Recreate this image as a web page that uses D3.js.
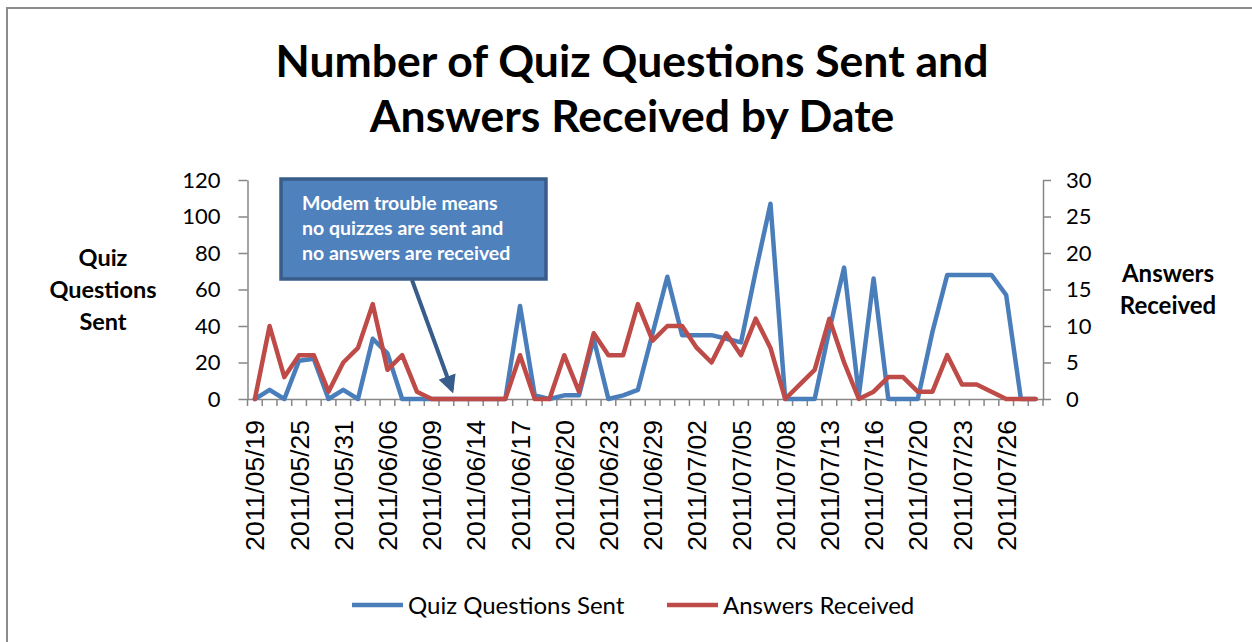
<!DOCTYPE html>
<html>
<head>
<meta charset="utf-8">
<script src="https://cdn.jsdelivr.net/npm/d3@7"></script>
<style>
  body { margin: 0; background: #fff; }
  svg { display: block; font-family: Lato, "Open Sans", sans-serif; }
</style>
</head>
<body>
<svg></svg>
<script>
// Category dates (only every third one is labelled on the axis)
const dates = [
  "2011/05/19", "2011/05/21", "2011/05/23", "2011/05/25", "2011/05/27", "2011/05/29",
  "2011/05/31", "2011/06/02", "2011/06/04", "2011/06/06", "2011/06/07", "2011/06/08",
  "2011/06/09", "2011/06/10", "2011/06/13", "2011/06/14", "2011/06/15", "2011/06/16",
  "2011/06/17", "2011/06/18", "2011/06/19", "2011/06/20", "2011/06/21", "2011/06/22",
  "2011/06/23", "2011/06/25", "2011/06/27", "2011/06/29", "2011/06/30", "2011/07/01",
  "2011/07/02", "2011/07/03", "2011/07/04", "2011/07/05", "2011/07/06", "2011/07/07",
  "2011/07/08", "2011/07/11", "2011/07/12", "2011/07/13", "2011/07/14", "2011/07/15",
  "2011/07/16", "2011/07/18", "2011/07/19", "2011/07/20", "2011/07/21", "2011/07/22",
  "2011/07/23", "2011/07/24", "2011/07/25", "2011/07/26", "2011/07/27", "2011/07/28"
];

// Quiz questions sent (left axis)
const questionsSent = [
  0, 5, 0, 21, 22, 0, 5, 0, 33, 25, 0, 0,
  0, 0, 0, 0, 0, 0, 51, 2, 0, 2, 2, 33,
  0, 2, 5, 36, 67, 35, 35, 35, 33, 31, 70, 107,
  0, 0, 0, 38, 72, 2, 66, 0, 0, 0, 37, 68,
  68, 68, 68, 57, 0, 0
];

// Answers received (right axis)
const answersReceived = [
  0, 10, 3, 6, 6, 1, 5, 7, 13, 4, 6, 1,
  0, 0, 0, 0, 0, 0, 6, 0, 0, 6, 1, 9,
  6, 6, 13, 8, 10, 10, 7, 5, 9, 6, 11, 7,
  0, 2, 4, 11, 5, 0, 1, 3, 3, 1, 1, 6,
  2, 2, 1, 0, 0, 0
];

const leftTicks = [0, 20, 40, 60, 80, 100, 120];
const rightTicks = [0, 5, 10, 15, 20, 25, 30];

const seriesNames = ["Quiz Questions Sent", "Answers Received"];
const seriesColors = ["#4A7EBB", "#BE4B48"];

const svgWidth = 1252;
const svgHeight = 642;
const plot = { left: 247.5, right: 1043, top: 180, bottom: 399 };
const axisColor = "#868686";

const svg = d3.select("svg")
    .attr("width", svgWidth)
    .attr("height", svgHeight);

// Chart border
svg.append("rect")
    .attr("x", 7).attr("y", 8)
    .attr("width", 1260).attr("height", 660)
    .attr("fill", "white")
    .attr("stroke", "#8c8c8c")
    .attr("stroke-width", 2);

// Title
const title = svg.append("text")
    .attr("text-anchor", "middle")
    .style("font-size", "44.5px")
    .style("font-weight", "bold");
title.append("tspan").attr("x", 632).attr("y", 77).text("Number of Quiz Questions Sent and");
title.append("tspan").attr("x", 632).attr("y", 132).text("Answers Received by Date");

// Scales
const x = d3.scaleBand()
    .domain(dates)
    .range([plot.left, plot.right]);

const yLeft = d3.scaleLinear()
    .domain([0, 120])
    .range([plot.bottom, plot.top]);

const yRight = d3.scaleLinear()
    .domain([0, 30])
    .range([plot.bottom, plot.top]);

// Left axis
const leftAxis = svg.append("g")
    .attr("transform", `translate(${plot.left},0)`)
    .call(d3.axisLeft(yLeft).tickValues(leftTicks).tickSize(9).tickPadding(18).tickSizeOuter(0));

// Right axis
const rightAxis = svg.append("g")
    .attr("transform", `translate(${plot.right},0)`)
    .call(d3.axisRight(yRight).tickValues(rightTicks).tickSize(8).tickPadding(15).tickSizeOuter(0));

[leftAxis, rightAxis].forEach(g => {
    g.selectAll("path, line").attr("stroke", axisColor).attr("stroke-width", 1.5);
    g.selectAll("text")
        .attr("fill", "#000")
        .style("font-family", "Lato, sans-serif")
        .style("font-size", "22px");
});

// Bottom axis: labels every third category
const bottomAxis = svg.append("g")
    .attr("transform", `translate(0,${plot.bottom})`)
    .call(d3.axisBottom(x)
        .tickSize(0)
        .tickSizeOuter(0)
        .tickFormat((d, i) => i % 3 === 0 ? d : ""));

bottomAxis.select("path").attr("stroke", axisColor).attr("stroke-width", 1.5);
bottomAxis.selectAll("text")
    .attr("transform", "rotate(-90)")
    .attr("x", -21)
    .attr("y", 0)
    .attr("dy", "0.36em")
    .attr("text-anchor", "end")
    .attr("fill", "#000")
    .style("font-size", "26.5px");

// Tick marks at category boundaries
svg.append("g")
    .selectAll("line")
    .data(dates.concat(["end"]))
    .enter()
    .append("line")
    .attr("x1", d => d === "end" ? plot.right : x(d))
    .attr("x2", d => d === "end" ? plot.right : x(d))
    .attr("y1", plot.bottom)
    .attr("y2", plot.bottom + 7)
    .attr("stroke", axisColor)
    .attr("stroke-width", 1.5);

// Axis titles
const leftTitle = svg.append("text")
    .attr("text-anchor", "middle")
    .style("font-size", "23.5px")
    .style("font-weight", "bold");
["Quiz", "Questions", "Sent"].forEach((t, i) => {
    leftTitle.append("tspan").attr("x", 103).attr("y", 266 + i * 32).text(t);
});

const rightTitle = svg.append("text")
    .attr("text-anchor", "middle")
    .style("font-size", "24px")
    .style("font-weight", "bold");
["Answers", "Received"].forEach((t, i) => {
    rightTitle.append("tspan").attr("x", 1168).attr("y", 282 + i * 32).text(t);
});

// Lines
const cx = d => x(d) + x.bandwidth() / 2;

const lineLeft = d3.line()
    .x((d, i) => cx(dates[i]))
    .y(d => yLeft(d));

const lineRight = d3.line()
    .x((d, i) => cx(dates[i]))
    .y(d => yRight(d));

svg.append("path")
    .datum(questionsSent)
    .attr("d", lineLeft)
    .attr("fill", "none")
    .attr("stroke", seriesColors[0])
    .attr("stroke-width", 4.5)
    .attr("stroke-linejoin", "round")
    .attr("stroke-linecap", "round");

svg.append("path")
    .datum(answersReceived)
    .attr("d", lineRight)
    .attr("fill", "none")
    .attr("stroke", seriesColors[1])
    .attr("stroke-width", 4.5)
    .attr("stroke-linejoin", "round")
    .attr("stroke-linecap", "round");

// Callout box with arrow
svg.append("defs").append("marker")
    .attr("id", "arrowHead")
    .attr("viewBox", "0 0 10 10")
    .attr("refX", 8).attr("refY", 5)
    .attr("markerWidth", 4.5).attr("markerHeight", 4.5)
    .attr("orient", "auto")
    .append("path")
    .attr("d", "M0,0 L10,5 L0,10 Z")
    .attr("fill", "#385D8A");

svg.append("line")
    .attr("x1", 412).attr("y1", 280)
    .attr("x2", 452).attr("y2", 390)
    .attr("stroke", "#385D8A")
    .attr("stroke-width", 4)
    .attr("marker-end", "url(#arrowHead)");

svg.append("rect")
    .attr("x", 281).attr("y", 179)
    .attr("width", 265).attr("height", 100)
    .attr("fill", "#4F81BD")
    .attr("stroke", "#385D8A")
    .attr("stroke-width", 3.5);

const note = svg.append("text")
    .attr("fill", "white")
    .style("font-size", "19.5px")
    .style("font-weight", "bold");
["Modem trouble means", "no quizzes are sent and", "no answers are received"].forEach((t, i) => {
    note.append("tspan").attr("x", 302).attr("y", 210 + i * 25).text(t);
});

// Legend
const legendX = [352, 667];
const legend = svg.append("g")
    .selectAll("g")
    .data(seriesNames)
    .enter()
    .append("g")
    .attr("transform", (d, i) => `translate(${legendX[i]},605)`);

legend.append("line")
    .attr("x1", 0).attr("x2", 51)
    .attr("stroke", (d, i) => seriesColors[i])
    .attr("stroke-width", 4.5);

legend.append("text")
    .attr("x", 56)
    .attr("dy", "0.36em")
    .style("font-size", "24px")
    .text(d => d);
</script>
</body>
</html>
